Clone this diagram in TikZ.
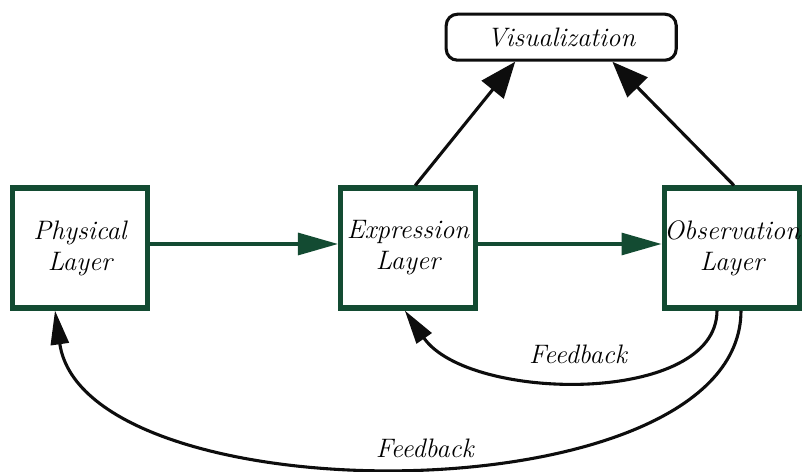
\documentclass[tikz,border=0pt]{standalone}
\usepackage{xcolor}
\definecolor{layer-green}{HTML}{134B32}
\definecolor{layer-black}{HTML}{0D0D0D}
\usetikzlibrary{arrows.meta,calc}

\tikzset{
    layerbox/.style={draw=layer-green, line width=3.6pt, fill=white, inner xsep=0pt, minimum width=3.375cm, minimum height=3.0cm, align=center, font=\fontsize{19}{22}\selectfont\itshape},
    viewbox/.style={draw=layer-black, line width=2.2pt, rounded corners=0.28cm, minimum width=5.75cm, minimum height=1.15cm, font=\fontsize{19}{22}\selectfont\itshape},
    flowline/.style={draw=layer-green, line width=2.2pt, -{Triangle[length=1.0cm, width=0.55cm]}},
    viewline/.style={draw=layer-black, line width=2.2pt, -{Triangle[length=0.9cm, width=0.7cm]}},
    backline/.style={draw=layer-black, line width=2.2pt, -{Triangle[length=0.85cm, width=0.45cm]}},
    backtext/.style={font=\fontsize{19}{22}\selectfont\itshape}
}

\begin{document}
\begin{tikzpicture}

    \useasboundingbox (0, 0) rectangle (20.05, 11.8);

    % Layers
    \node[layerbox] (phys) at (2.0, 5.6) {Physical\\Layer};
    \node[layerbox] (expr) at (10.2, 5.6) {Expression\\Layer};
    \node[layerbox] (obs) at (18.3, 5.6) {Observation\\Layer};

    % Visualization
    \node[viewbox] (vis) at (14.03, 10.87) {Visualization};

    % Forward flow
    \draw[flowline] ([yshift=1mm]phys.east) -- ([yshift=1mm]expr.west);
    \draw[flowline] ([yshift=1mm]expr.east) -- ([yshift=1mm]obs.west);

    % Up to visualization
    \draw[viewline] ([xshift=0.18cm]expr.north) -- ([xshift=-1.15cm]vis.south);
    \draw[viewline] ([xshift=0.05cm]obs.north) -- ([xshift=1.28cm]vis.south);

    % Feedback
    \draw[backline] ([xshift=-0.375cm]obs.south) .. controls +(0, -2.375) and +(1.6, -2.3) .. ([xshift=-0.08cm]expr.south);
    \draw[backline] ([xshift=0.225cm]obs.south) .. controls +(0, -5.2) and +(0.75, -5.2) .. ([xshift=-0.625cm]phys.south);
    \node[backtext] (fb-near) at (14.45, 2.95) {Feedback};
    \node[backtext] (fb-far) at (10.62, 0.6) {Feedback};

\end{tikzpicture}
\end{document}
